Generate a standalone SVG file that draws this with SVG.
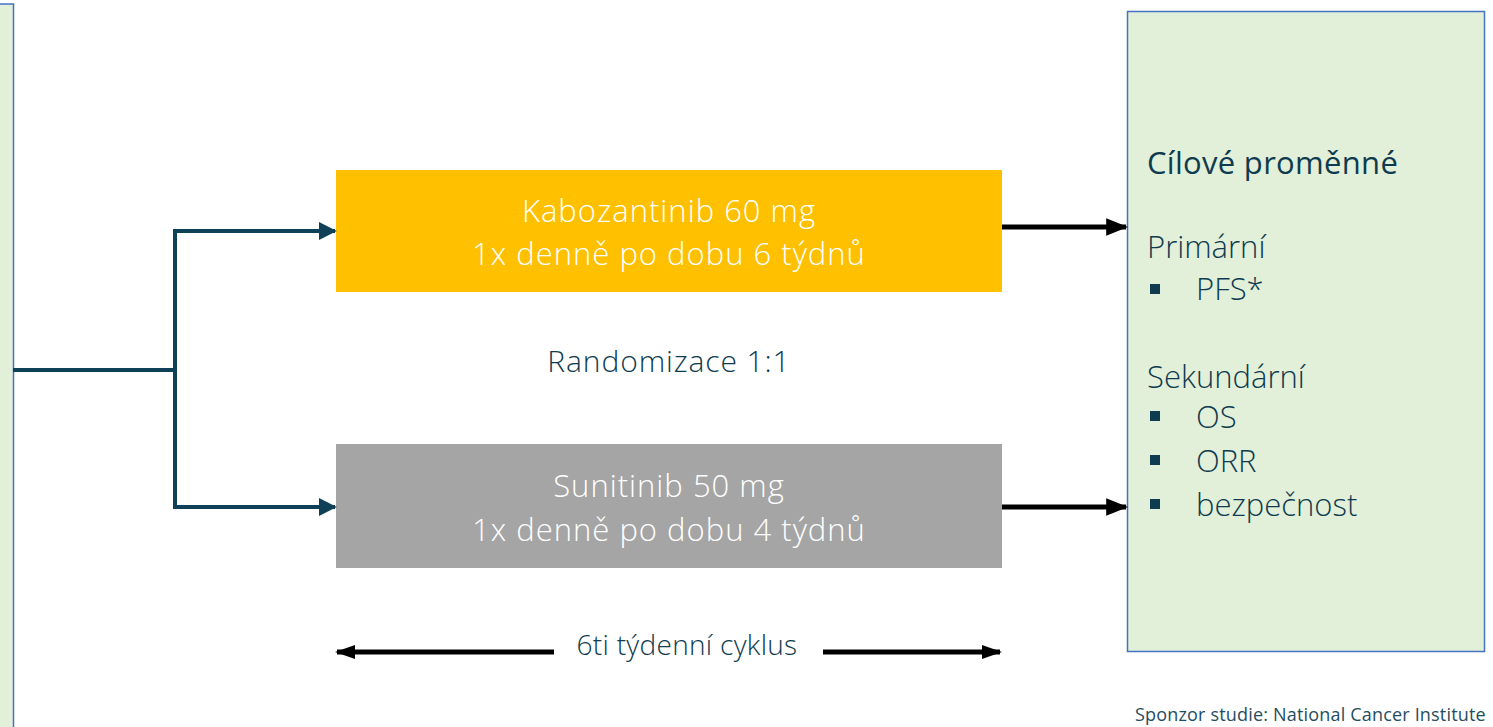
<svg xmlns="http://www.w3.org/2000/svg" width="1493" height="727" viewBox="0 0 1493 727">
<defs>
<style>
.t{font-family:"Open Sans","Noto Sans",sans-serif;font-weight:300;}
.w{fill:#ffffff;font-size:31px;letter-spacing:1px;text-anchor:middle;}
.d{fill:#0E3B4F;}
.r{font-size:31px;}
.green{fill:#E2EFD9;stroke:#4472C4;stroke-width:1.5;}
.teal{stroke:#0E4157;stroke-width:4;fill:none;}
.blk{stroke:#000;stroke-width:5;fill:none;}
</style>
<marker id="ah" viewBox="0 0 10 10" refX="9" refY="5" markerWidth="18" markerHeight="18" markerUnits="userSpaceOnUse" orient="auto"><path d="M0,0 L10,5 L0,10 z" fill="#0E4157"/></marker>
<marker id="bh" viewBox="0 0 10 10" refX="9" refY="5" markerWidth="22" markerHeight="22" markerUnits="userSpaceOnUse" orient="auto"><path d="M0,1 L10,5 L0,9 z" fill="#000"/></marker>
<marker id="bh2" viewBox="0 0 10 10" refX="9" refY="5" markerWidth="20" markerHeight="20" markerUnits="userSpaceOnUse" orient="auto-start-reverse"><path d="M0,1.5 L10,5 L0,8.5 z" fill="#000"/></marker>
</defs>
<rect width="1493" height="727" fill="#ffffff"/>
<g id="left-box"><rect class="green" x="-10" y="4" width="23.5" height="740"/></g>
<g id="right-box">
<rect class="green" x="1127.5" y="11.5" width="357" height="640"/>
<text class="t d" x="1147" y="174" font-size="31" style="font-weight:400;letter-spacing:0.3px">Cílové proměnné</text>
<text class="t d r" x="1147" y="258">Primární</text>
<rect x="1150" y="284" width="10" height="10" fill="#0E3B4F"/>
<text class="t d r" x="1196" y="300">PFS*</text>
<text class="t d r" x="1147" y="388">Sekundární</text>
<rect x="1150" y="411" width="10" height="10" fill="#0E3B4F"/>
<text class="t d r" x="1196" y="428">OS</text>
<rect x="1150" y="455" width="10" height="10" fill="#0E3B4F"/>
<text class="t d r" x="1196" y="472">ORR</text>
<rect x="1150" y="499" width="10" height="10" fill="#0E3B4F"/>
<text class="t d r" x="1196" y="516">bezpečnost</text>
</g>
<g id="kabo">
<rect x="336" y="170" width="666" height="122" fill="#FFC000"/>
<text class="t w" x="669" y="222">Kabozantinib 60 mg</text>
<text class="t w" x="669" y="265">1x denně po dobu 6 týdnů</text>
</g>
<g id="suni">
<rect x="336" y="444" width="666" height="124" fill="#A5A5A5"/>
<text class="t w" x="669" y="497">Sunitinib 50 mg</text>
<text class="t w" x="669" y="541">1x denně po dobu 4 týdnů</text>
</g>
<g id="random"><text class="t d" x="669" y="372" font-size="30" letter-spacing="0.9" text-anchor="middle">Randomizace 1:1</text></g>
<g id="cycle"><text class="t d" x="687" y="655" font-size="28" letter-spacing="0.3" text-anchor="middle">6ti týdenní cyklus</text></g>
<g id="sponsor"><text x="1135" y="721" font-family="Open Sans, sans-serif" font-size="18" letter-spacing="0.18" fill="#1F4E60">Sponzor studie: National Cancer Institute</text></g>
<g id="connectors">
<path class="teal" d="M13,370 H175"/>
<path class="teal" d="M175,231 V507"/>
<path class="teal" d="M173,231 H335" marker-end="url(#ah)"/>
<path class="teal" d="M173,507 H335" marker-end="url(#ah)"/>
<path class="blk" d="M1002,227 H1126" marker-end="url(#bh)"/>
<path class="blk" d="M1002,507 H1126" marker-end="url(#bh)"/>
<path class="blk" d="M554,652 H337" marker-end="url(#bh2)"/>
<path class="blk" d="M823,652 H1000" marker-end="url(#bh2)"/>
</g>
</svg>
